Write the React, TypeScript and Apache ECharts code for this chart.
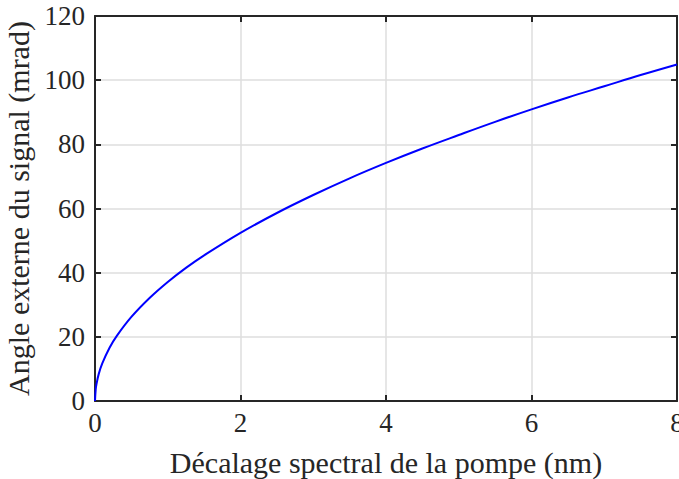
import React, { useEffect, useRef } from "react";
import * as echarts from "echarts";

const shiftNm = [0, 0.01, 0.02, 0.05, 0.1, 0.2, 0.3, 0.5, 0.75, 1, 1.25, 1.5, 2, 2.5, 3, 3.5, 4, 4.5, 5, 5.5, 6, 6.5, 7, 7.5, 8];
const angleMrad = [0, 3.7, 5.2, 8.3, 11.7, 16.6, 20.3, 26.2, 32.1, 37.1, 41.5, 45.4, 52.4, 58.6, 64.2, 69.4, 74.2, 78.7, 82.9, 87.0, 90.9, 94.6, 98.1, 101.6, 104.9];
const xTicks = [0, 2, 4, 6, 8];
const yTicks = [0, 20, 40, 60, 80, 100, 120];

const xTitle = "Décalage spectral de la pompe (nm)";
const yTitle = "Angle externe du signal (mrad)";

export default function App() {
  const ref = useRef<HTMLDivElement>(null);
  useEffect(() => {
    if (!ref.current) return;
    const chart = echarts.init(ref.current, null, { renderer: "svg" });
    const font = "'Liberation Serif', 'Times New Roman', serif";
    const dark = "#262626";
    const common = {
      axisLine: { show: true, onZero: false, lineStyle: { color: dark, width: 2 } },
      axisTick: { show: true, inside: true, length: 6, lineStyle: { color: dark, width: 2 } },
    };
    chart.setOption({
      animation: false,
      backgroundColor: "#ffffff",
      grid: { left: 95, right: 2, top: 16, bottom: 78, containLabel: false, outerBoundsMode: "none" },
      xAxis: [
        {
          type: "value",
          min: xTicks[0],
          max: xTicks[xTicks.length - 1],
          interval: 2,
          position: "bottom",
          ...common,
          axisLabel: { color: dark, fontFamily: font, fontSize: 27, margin: 8 },
          splitLine: { show: true, lineStyle: { color: "#dedede", width: 1.5 } },
          name: xTitle,
          nameLocation: "middle",
          nameGap: 46,
          nameTextStyle: { color: dark, fontFamily: font, fontSize: 30 },
        },
        {
          type: "value",
          min: xTicks[0],
          max: xTicks[xTicks.length - 1],
          interval: 2,
          position: "top",
          ...common,
          axisLabel: { show: false },
          splitLine: { show: false },
        },
      ],
      yAxis: [
        {
          type: "value",
          min: yTicks[0],
          max: yTicks[yTicks.length - 1],
          interval: 20,
          position: "left",
          ...common,
          axisLabel: { color: dark, fontFamily: font, fontSize: 27, margin: 10 },
          splitLine: { show: true, lineStyle: { color: "#dedede", width: 1.5 } },
          name: yTitle,
          nameLocation: "middle",
          nameGap: 55,
          nameTextStyle: { color: dark, fontFamily: font, fontSize: 30 },
        },
        {
          type: "value",
          min: yTicks[0],
          max: yTicks[yTicks.length - 1],
          interval: 20,
          position: "right",
          ...common,
          axisLabel: { show: false },
          splitLine: { show: false },
        },
      ],
      series: [
        {
          type: "line",
          data: shiftNm.map((x, i) => [x, angleMrad[i]]),
          smooth: 0.4,
          showSymbol: false,
          lineStyle: { color: "#0000ff", width: 2 },
          clip: false,
        },
      ],
    });
    return () => chart.dispose();
  }, []);
  return (
    <div
      ref={ref}
      style={{ position: "fixed", left: 0, top: 0, width: 679, height: 479, background: "#fff" }}
    />
  );
}
